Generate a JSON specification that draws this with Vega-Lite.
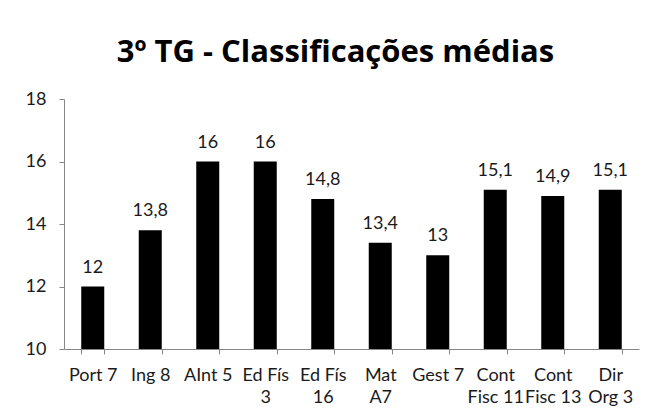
{
  "$schema": "https://vega.github.io/schema/vega-lite/v6.json",
  "width": 575,
  "height": 250,
  "autosize": "none",
  "padding": {"left": 64, "top": 99, "right": 10, "bottom": 68},
  "background": "white",
  "config": {
    "view": {"stroke": null},
    "font": "Lato",
    "locale": {"number": {"decimal": ",", "thousands": ".", "grouping": [3], "currency": ["", " €"]}}
  },
  "title": {
    "text": "3º TG - Classificações médias",
    "font": "Open Sans",
    "fontSize": 31,
    "fontWeight": "bold",
    "color": "#000000",
    "anchor": "middle",
    "dx": -16,
    "offset": 21
  },
  "data": {
    "values": [
      {"disciplina": "Port 7", "media": 12},
      {"disciplina": "Ing 8", "media": 13.8},
      {"disciplina": "AInt 5", "media": 16},
      {"disciplina": "Ed Fís|3", "media": 16},
      {"disciplina": "Ed Fís|16", "media": 14.8},
      {"disciplina": "Mat|A7", "media": 13.4},
      {"disciplina": "Gest 7", "media": 13},
      {"disciplina": "Cont|Fisc 11", "media": 15.1},
      {"disciplina": "Cont|Fisc 13", "media": 14.9},
      {"disciplina": "Dir|Org 3", "media": 15.1}
    ]
  },
  "encoding": {
    "x": {
      "field": "disciplina",
      "type": "nominal",
      "sort": null,
      "scale": {"paddingInner": 0.6, "paddingOuter": 0.3},
      "axis": {
        "title": null,
        "labelAngle": 0,
        "labelExpr": "split(datum.label, '|')",
        "labelFont": "Lato",
        "labelFontSize": 18,
        "labelColor": "#1a1a1a",
        "labelPadding": 12,
        "labelLineHeight": 22,
        "labelBaseline": "top",
        "tickBand": "extent",
        "tickSize": 5,
        "tickColor": "#868686",
        "domainColor": "#868686"
      }
    },
    "y": {
      "field": "media",
      "type": "quantitative",
      "scale": {"domain": [10, 18], "nice": false, "zero": false},
      "axis": {
        "title": null,
        "values": [10, 12, 14, 16, 18],
        "grid": false,
        "labelFont": "Lato",
        "labelFontSize": 18,
        "labelColor": "#1a1a1a",
        "labelPadding": 13,
        "tickSize": 5,
        "tickColor": "#868686",
        "domainColor": "#868686",
        "format": "d"
      }
    }
  },
  "layer": [
    {"mark": {"type": "bar", "color": "#000000", "clip": true}},
    {
      "mark": {"type": "text", "baseline": "alphabetic", "dy": -14, "fontSize": 18, "color": "#1a1a1a", "font": "Lato"},
      "encoding": {"text": {"field": "media", "type": "quantitative", "format": "~g"}}
    }
  ]
}
